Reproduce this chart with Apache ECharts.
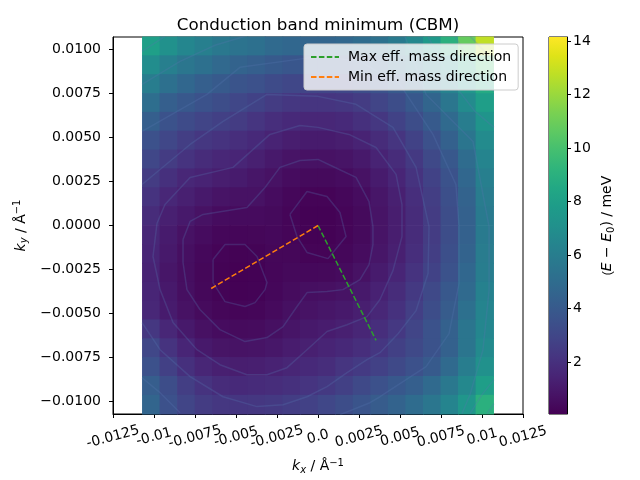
<!DOCTYPE html>
<html>
<head>
<meta charset="utf-8">
<script src="https://cdn.jsdelivr.net/npm/echarts@6/dist/echarts.min.js"></script>
<style>html,body{margin:0;padding:0;background:#fff;}#c{width:640px;height:480px;}</style>
</head>
<body>
<div id="c"></div>
<script>
// ---- data ----
const kx = [-0.01017, -0.00910, -0.00803, -0.00696, -0.00589, -0.00482, -0.00375, -0.00268, -0.00161, -0.00054,
             0.00054,  0.00161,  0.00268,  0.00375,  0.00482,  0.00589,  0.00696,  0.00803,  0.00910,  0.01017];
// rows listed from top (largest ky) to bottom
const ky = [0.01017, 0.00910, 0.00803, 0.00696, 0.00589, 0.00482, 0.00375, 0.00268, 0.00161, 0.00054,
           -0.00054, -0.00161, -0.00268, -0.00375, -0.00482, -0.00589, -0.00696, -0.00803, -0.00910, -0.01017];
const energy = [
  [8.0, 7.1, 6.5, 6.1, 5.7, 5.4, 5.2, 4.9, 4.7, 4.6, 4.6, 4.7, 5.0, 5.3, 5.8, 6.6, 7.6, 9.0, 10.8, 12.8],
  [6.9, 6.1, 5.6, 5.2, 4.8, 4.5, 4.3, 4.0, 3.8, 3.7, 3.7, 3.8, 4.1, 4.4, 4.9, 5.5, 6.2, 7.2, 8.6, 10.0],
  [6.0, 5.2, 4.7, 4.3, 4.0, 3.7, 3.5, 3.2, 3.0, 2.9, 2.9, 3.0, 3.3, 3.6, 4.0, 4.6, 5.4, 6.3, 7.4, 8.6],
  [5.1, 4.3, 3.9, 3.6, 3.3, 3.0, 2.8, 2.5, 2.3, 2.2, 2.2, 2.3, 2.5, 2.9, 3.3, 3.9, 4.6, 5.6, 6.8, 7.9],
  [4.3, 3.6, 3.2, 2.9, 2.7, 2.5, 2.2, 1.9, 1.7, 1.6, 1.6, 1.7, 2.0, 2.3, 2.8, 3.3, 4.0, 4.9, 6.0, 7.3],
  [3.5, 3.0, 2.6, 2.3, 2.1, 1.9, 1.7, 1.4, 1.2, 1.1, 1.1, 1.2, 1.4, 1.8, 2.2, 2.8, 3.5, 4.4, 5.5, 6.8],
  [3.0, 2.5, 2.1, 1.8, 1.6, 1.5, 1.3, 1.0, 0.8, 0.7, 0.7, 0.8, 1.0, 1.4, 1.8, 2.4, 3.1, 3.9, 5.0, 6.4],
  [2.5, 2.0, 1.6, 1.4, 1.2, 1.1, 0.9, 0.7, 0.5, 0.4, 0.4, 0.5, 0.7, 1.1, 1.5, 2.1, 2.8, 3.6, 4.7, 6.1],
  [2.1, 1.6, 1.3, 1.0, 0.8, 0.7, 0.7, 0.5, 0.3, 0.18, 0.18, 0.3, 0.5, 0.9, 1.3, 1.9, 2.6, 3.4, 4.5, 5.9],
  [1.8, 1.3, 1.0, 0.7, 0.5, 0.45, 0.45, 0.4, 0.2, 0.08, 0.08, 0.2, 0.4, 0.8, 1.2, 1.8, 2.5, 3.3, 4.4, 5.8],
  [1.6, 1.1, 0.7, 0.5, 0.3, 0.24, 0.27, 0.32, 0.2, 0.08, 0.08, 0.2, 0.4, 0.8, 1.2, 1.8, 2.5, 3.3, 4.4, 5.8],
  [1.5, 1.0, 0.6, 0.34, 0.17, 0.11, 0.15, 0.27, 0.27, 0.18, 0.18, 0.29, 0.5, 0.9, 1.3, 1.9, 2.6, 3.4, 4.5, 5.9],
  [1.4, 0.9, 0.56, 0.27, 0.11, 0.05, 0.1, 0.25, 0.36, 0.34, 0.36, 0.46, 0.7, 1.1, 1.5, 2.1, 2.8, 3.6, 4.7, 6.0],
  [1.5, 1.0, 0.6, 0.31, 0.15, 0.08, 0.13, 0.28, 0.48, 0.58, 0.65, 0.76, 1.0, 1.35, 1.8, 2.4, 3.1, 3.9, 4.9, 6.2],
  [1.6, 1.1, 0.7, 0.43, 0.27, 0.21, 0.25, 0.41, 0.62, 0.77, 0.87, 1.0, 1.25, 1.6, 2.05, 2.65, 3.3, 4.1, 5.2, 6.4],
  [2.3, 1.6, 1.0, 0.66, 0.5, 0.43, 0.48, 0.63, 0.84, 1.0, 1.13, 1.3, 1.55, 1.9, 2.35, 2.9, 3.6, 4.4, 5.5, 6.5],
  [3.0, 2.1, 1.5, 1.0, 0.82, 0.76, 0.8, 0.93, 1.14, 1.3, 1.45, 1.65, 1.9, 2.25, 2.7, 3.1, 3.6, 4.4, 5.5, 6.7],
  [3.5, 2.7, 2.0, 1.55, 1.3, 1.2, 1.25, 1.36, 1.55, 1.7, 1.85, 2.2, 2.45, 2.75, 3.1, 3.5, 4.0, 4.9, 6.0, 7.1],
  [4.2, 3.3, 2.6, 2.1, 1.8, 1.7, 1.75, 1.85, 2.0, 2.15, 2.4, 2.7, 3.1, 3.5, 3.9, 4.3, 4.9, 5.7, 6.6, 7.9],
  [4.6, 3.5, 2.9, 2.5, 2.3, 2.25, 2.3, 2.4, 2.55, 2.75, 3.0, 3.3, 3.7, 4.1, 4.5, 5.0, 5.6, 6.4, 7.4, 9.0]
];
const energyMin = 0.05;
const energyMax = 14.15;
const maxDirX = [0, 0.00354];
const maxDirY = [0, -0.00652];
const minDirX = [0, -0.00663];
const minDirY = [0, -0.00364];

// contour lines, [kx, ky] points
const contourA1 = [[-0.00171,0.00063],[-0.00067,0.00193],[0.00055,0.00165],[0.00134,0.00074],[0.00171,-0.00063],[0.00061,-0.00188],[-0.00067,-0.00153],[-0.00128,-0.00063],[-0.00171,0.00063]];
const contourB1 = [[-0.0064,-0.00193],[-0.00567,-0.00108],[-0.00445,-0.00108],[-0.00372,-0.00176],[-0.00311,-0.00324],[-0.00323,-0.00364],[-0.00384,-0.00438],[-0.00445,-0.0046],[-0.00567,-0.00432],[-0.0064,-0.00324],[-0.0064,-0.00193]];
const contour2 = [[-0.00823,-0.0008],[-0.00823,-0.0021],[-0.00799,-0.00364],[-0.0072,-0.00477],[-0.00598,-0.00591],[-0.00445,-0.00659],[-0.00311,-0.00636],[-0.00213,-0.00574],[-0.00128,-0.0046],[-0.00067,-0.00381],[0.00055,-0.00375],[0.00152,-0.00364],[0.00256,-0.00307],[0.00311,-0.00222],[0.00335,-0.00108],[0.00335,-0.00006],[0.00311,0.00136],[0.00232,0.00273],[0.00091,0.00335],[0,0.00375],[-0.0011,0.00369],[-0.00232,0.0033],[-0.00323,0.00216],[-0.00433,0.00102],[-0.00701,0.00063],[-0.0078,0.00023],[-0.00823,-0.0008]];
const contour3 = [[-0.00982,0.00011],[-0.00933,0.00119],[-0.0078,0.00273],[-0.00518,0.0033],[-0.00293,0.00517],[-0.0011,0.00568],[0,0.00557],[0.00189,0.00517],[0.00354,0.00443],[0.00476,0.0029],[0.00512,0.00119],[0.00512,-0.00063],[0.00457,-0.00256],[0.00378,-0.0042],[0.00299,-0.00517],[0.00177,-0.00563],[0.00055,-0.00602],[-0.00067,-0.00705],[-0.00189,-0.00807],[-0.00311,-0.00847],[-0.00433,-0.00847],[-0.00598,-0.0079],[-0.00738,-0.00705],[-0.00884,-0.00551],[-0.00963,-0.00364],[-0.01006,-0.00176],[-0.00982,0.00011]];
const contour4 = [[-0.01073,0.00233],[-0.0078,0.0046],[-0.00579,0.00591],[-0.00311,0.00744],[0,0.00733],[0.00232,0.00688],[0.00457,0.00557],[0.00598,0.0033],[0.00677,-0.00006],[0.00671,-0.00273],[0.00598,-0.00483],[0.00488,-0.00614],[0.00378,-0.00722],[0.00299,-0.00761],[0.00177,-0.00835],[0.00055,-0.00915],[-0.00067,-0.00972],[-0.00213,-0.01017],[-0.00372,-0.01028],[-0.00579,-0.00972],[-0.0078,-0.00858],[-0.00963,-0.00705],[-0.01073,-0.00551]];
const contour5 = [[-0.01073,0.00534],[-0.00677,0.00744],[-0.00476,0.00898],[0.00012,0.0096],[0.00256,0.00932],[0.005,0.00801],[0.00701,0.00517],[0.00841,0.00233],[0.0086,-0.00006],[0.0086,-0.0033],[0.00799,-0.00614],[0.00659,-0.00801],[0.00378,-0.00972],[0.00317,-0.01006],[0.00134,-0.01074]];
const contour5b = [[-0.01073,-0.00864],[-0.00963,-0.00949],[-0.00841,-0.01063]];
const contour6 = [[0.0053,0.01074],[0.00659,0.00744],[0.00945,0.00477],[0.01043,-0.00006],[0.01043,-0.00369],[0.01006,-0.00705],[0.00927,-0.0096],[0.00878,-0.01068]];
const contour6b = [[-0.01073,0.00801],[-0.00841,0.00932],[-0.00628,0.01023],[-0.00445,0.01074]];
const contour7 = [[0.00671,0.01074],[0.00805,0.0083],[0.00957,0.00648],[0.01073,0.00557]];
const contour7b = [[-0.01073,0.00989],[-0.00933,0.01074]];
const contour7c = [[0.00927,-0.01068],[0.01,-0.0096],[0.01073,-0.00875]];
const contour8 = [[0.00835,0.01074],[0.00957,0.00886],[0.01073,0.00761]];
const contour8b = [[0.0103,-0.01068],[0.01073,-0.01011]];
const contour9 = [[0.00927,0.01074],[0.01073,0.00932]];
const contours = [contourA1, contourB1, contour2, contour3, contour4, contour5, contour5b, contour6, contour6b,
                  contour7, contour7b, contour7c, contour8, contour8b, contour9];

const xTickValues = [-0.0125, -0.01, -0.0075, -0.005, -0.0025, 0, 0.0025, 0.005, 0.0075, 0.01, 0.0125];
const xTickLabels = ['-0.0125', '-0.01', '-0.0075', '-0.005', '-0.0025', '0.0', '0.0025', '0.005', '0.0075', '0.01', '0.0125'];
const yTickValues = [-0.01, -0.0075, -0.005, -0.0025, 0, 0.0025, 0.005, 0.0075, 0.01];
const yTickLabels = ['\u22120.0100', '\u22120.0075', '\u22120.0050', '\u22120.0025', '0.0000', '0.0025', '0.0050', '0.0075', '0.0100'];
const cbTickValues = [2, 4, 6, 8, 10, 12, 14];
const seriesNames = ['Max eff. mass direction', 'Min eff. mass direction'];

// ---- styles ----
const viridis = ['#440154','#471365','#482475','#463480','#414487','#3b528b','#355f8d','#2f6c8e','#2a788e','#25848e',
                 '#21918c','#1e9c89','#22a884','#2fb47c','#44bf70','#5ec962','#7ad151','#9bd93c','#bddf26','#dfe318','#fde725'];
const FONT = 'DejaVu Sans';

const cells = [];
for (let r = 0; r < ky.length; r++) {
  for (let c = 0; c < kx.length; c++) cells.push([kx[c], ky[r], energy[r][c]]);
}
const CELL = kx[1] - kx[0];
// x tick labels are split over two coincident axes so that neighbouring (overlapping) labels are all kept
const xTickValuesA = xTickValues.filter((v, i) => i % 2 === 0);
const xTickValuesB = xTickValues.filter((v, i) => i % 2 === 1);

function pick(values, labels) {
  return function (v) {
    for (let i = 0; i < values.length; i++) if (Math.abs(values[i] - v) < 1e-7) return labels[i];
    return '';
  };
}

const chart = echarts.init(document.getElementById('c'), null, {renderer: 'canvas'});
const rich = {
  i: {fontStyle: 'italic', fontFamily: FONT, fontSize: 14, color: '#000'},
  n: {fontFamily: FONT, fontSize: 14, color: '#000'},
  sub: {fontFamily: FONT, fontSize: 10, color: '#000', padding: [7, 0, 0, 0]},
  isub: {fontFamily: FONT, fontStyle: 'italic', fontSize: 10, color: '#000', padding: [7, 0, 0, 0]},
  sup: {fontFamily: FONT, fontSize: 10, color: '#000', padding: [0, 0, 7, 0]}
};
const xLabelStyle = {
  formatter: pick(xTickValues, xTickLabels),
  showMinLabel: true, showMaxLabel: true, hideOverlap: false,
  rotate: 15, align: 'center', verticalAlign: 'middle', margin: 23,
  fontFamily: FONT, fontSize: 14, color: '#000'
};

const contourSeries = contours.map(pts => ({
  type: 'line', xAxisIndex: 0, yAxisIndex: 0, data: pts,
  symbol: 'none', silent: true, smooth: false,
  lineStyle: {color: 'rgba(85,120,175,0.28)', width: 1.5},
  z: 3
}));

chart.setOption({
  animation: false,
  backgroundColor: '#fff',
  title: {
    text: 'Conduction band minimum (CBM)',
    left: 318, top: 17, textAlign: 'center', padding: 0,
    textStyle: {fontFamily: FONT, fontSize: 16.7, fontWeight: 'normal', color: '#000'}
  },
  legend: {
    data: seriesNames,
    orient: 'vertical',
    left: 304, top: 44,
    padding: [6, 7, 6, 6],
    itemWidth: 28, itemHeight: 14, itemGap: 6,
    itemStyle: {opacity: 0},
    backgroundColor: 'rgba(255,255,255,0.8)',
    borderColor: '#cccccc', borderWidth: 1, borderRadius: 3,
    textStyle: {fontFamily: FONT, fontSize: 14, color: '#000', padding: [0, 0, 0, 4]},
    z: 20
  },
  visualMap: {
    show: false, type: 'continuous', seriesIndex: 0, dimension: 2,
    min: energyMin, max: energyMax,
    inRange: {color: viridis}
  },
  grid: [
    {left: 113, top: 37, width: 410, height: 377, show: true, borderColor: '#000', borderWidth: 1, backgroundColor: 'transparent'},
    {left: 549, top: 37, width: 18, height: 377, show: true, borderColor: '#000', borderWidth: 1, backgroundColor: 'transparent'}
  ],
  xAxis: [
    {
      type: 'value', gridIndex: 0, min: -0.0125, max: 0.0125, position: 'bottom',
      name: '{i|k}{isub|x}{n| / Å}{sup|\u22121}', nameLocation: 'middle', nameGap: 44,
      nameTextStyle: {rich: rich},
      splitLine: {show: false},
      axisLine: {show: true, onZero: false, lineStyle: {color: '#000', width: 1}},
      axisTick: {show: true, length: 4, lineStyle: {color: '#000'}, customValues: xTickValues},
      axisLabel: Object.assign({customValues: xTickValuesA}, xLabelStyle)
    },
    {type: 'value', gridIndex: 1, min: 0, max: 1, show: false},
    {
      type: 'value', gridIndex: 0, min: -0.0125, max: 0.0125, position: 'bottom',
      splitLine: {show: false},
      axisLine: {show: false, onZero: false},
      axisTick: {show: false},
      axisLabel: Object.assign({customValues: xTickValuesB}, xLabelStyle)
    }
  ],
  yAxis: [
    {
      type: 'value', gridIndex: 0, min: -0.0107, max: 0.0107,
      name: '{i|k}{isub|y}{n| / Å}{sup|\u22121}', nameLocation: 'middle', nameGap: 77, nameRotate: 90,
      nameTextStyle: {rich: rich},
      splitLine: {show: false},
      axisLine: {show: true, onZero: false, lineStyle: {color: '#000', width: 1}},
      axisTick: {show: true, length: 4, lineStyle: {color: '#000'}, customValues: yTickValues},
      axisLabel: {
        customValues: yTickValues, formatter: pick(yTickValues, yTickLabels),
        margin: 12, fontFamily: FONT, fontSize: 14, color: '#000'
      }
    },
    {
      type: 'value', gridIndex: 1, position: 'right', min: energyMin, max: energyMax,
      name: '({i|E}{n| \u2212 }{i|E}{sub|0}{n|) / meV}', nameLocation: 'middle', nameGap: 32, nameRotate: 90,
      nameTextStyle: {rich: rich},
      splitLine: {show: false},
      axisLine: {show: true, onZero: false, lineStyle: {color: '#000', width: 1}},
      axisTick: {show: true, length: 4, lineStyle: {color: '#000'}, customValues: cbTickValues},
      axisLabel: {customValues: cbTickValues, margin: 6, fontFamily: FONT, fontSize: 14, color: '#000'}
    }
  ],
  series: [
    {
      type: 'custom', xAxisIndex: 0, yAxisIndex: 0, data: cells,
      encode: {x: 0, y: 1},
      renderItem: function (params, api) {
        const x = api.value(0), y = api.value(1);
        const p0 = api.coord([x - CELL / 2, y + CELL / 2]);
        const p1 = api.coord([x + CELL / 2, y - CELL / 2]);
        return {type: 'rect', shape: {x: p0[0] - 0.4, y: p0[1] - 0.4, width: p1[0] - p0[0] + 0.8, height: p1[1] - p0[1] + 0.8},
                style: {fill: api.visual('color')}};
      },
      z: 1
    },
    {
      name: seriesNames[0], type: 'line', xAxisIndex: 0, yAxisIndex: 0,
      data: maxDirX.map((x, i) => [x, maxDirY[i]]),
      symbol: 'none', color: '#2ca02c',
      lineStyle: {color: '#2ca02c', width: 1.5, type: [5.5, 2.4]}, z: 5
    },
    {
      name: seriesNames[1], type: 'line', xAxisIndex: 0, yAxisIndex: 0,
      data: minDirX.map((x, i) => [x, minDirY[i]]),
      symbol: 'none', color: '#ff7f0e',
      lineStyle: {color: '#ff7f0e', width: 1.5, type: [5.5, 2.4]}, z: 6
    },
    {
      type: 'custom', xAxisIndex: 1, yAxisIndex: 1, data: [[0, energyMin, 1, energyMax]],
      renderItem: function (params, api) {
        const p0 = api.coord([api.value(0), api.value(3)]);
        const p1 = api.coord([api.value(2), api.value(1)]);
        return {type: 'rect', shape: {x: p0[0], y: p0[1], width: p1[0] - p0[0], height: p1[1] - p0[1]},
                style: {fill: {type: 'linear', x: 0, y: 1, x2: 0, y2: 0,
                  colorStops: viridis.map((c, i) => ({offset: i / (viridis.length - 1), color: c}))}}};
      },
      z: 1
    }
  ].concat(contourSeries)
});
</script>
</body>
</html>
